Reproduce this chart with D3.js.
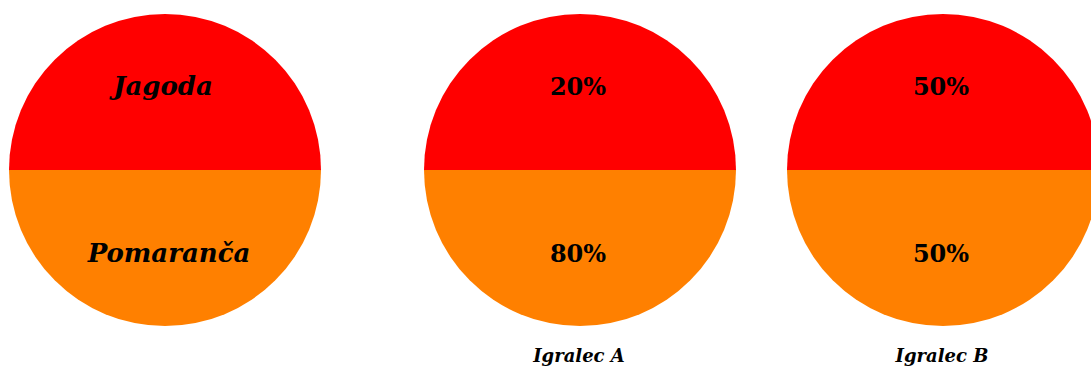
<!DOCTYPE html>
<html>
<head>
<meta charset="utf-8">
<script src="https://cdn.jsdelivr.net/npm/d3@7"></script>
<style>
html,body{margin:0;padding:0;background:#fff;}
svg{display:block;}
</style>
</head>
<body>
<svg id="chart" width="1091" height="367"></svg>
<script>
// Data
const charts = ["legend", "Igralec A", "Igralec B"];
const sliceNames = ["Jagoda", "Pomaranča"];
const sliceShares = [[50, 50], [50, 50], [50, 50]];
const topLabels = ["Jagoda", "20%", "50%"];
const bottomLabels = ["Pomaranča", "80%", "50%"];
const captions = ["", "Igralec A", "Igralec B"];
const sliceColors = ["#ff0000", "#ff8000"];

const svg = d3.select("#chart");
const R = 156;
const cy = 170;

const x = d3.scaleOrdinal().domain(charts).range([165, 580, 943]);
const color = d3.scaleOrdinal().domain(sliceNames).range(sliceColors);

const pie = d3.pie().sort(null).value(d => d.v)
  .startAngle(-Math.PI / 2).endAngle(3 * Math.PI / 2);
const arc = d3.arc().innerRadius(0).outerRadius(R);

const serif = "'DejaVu Serif', 'Liberation Serif', serif";

charts.forEach((c, i) => {
  const g = svg.append("g").attr("transform", `translate(${x(c)},${cy})`);
  g.selectAll("path")
    .data(pie(sliceShares[i].map((v, j) => ({name: sliceNames[j], v}))))
    .join("path")
    .attr("d", arc)
    .attr("fill", d => color(d.data.name));

  const italic = i === 0;
  const fs = italic ? 26 : 24;
  g.append("text")
    .attr("x", italic ? -2 : -2)
    .attr("y", -75)
    .attr("text-anchor", "middle")
    .attr("font-family", serif)
    .attr("font-weight", "bold")
    .attr("font-style", italic ? "italic" : "normal")
    .attr("font-size", fs)
    .attr("fill", "#000")
    .text(topLabels[i]);
  g.append("text")
    .attr("x", italic ? 4 : -2)
    .attr("y", 92)
    .attr("text-anchor", "middle")
    .attr("font-family", serif)
    .attr("font-weight", "bold")
    .attr("font-style", italic ? "italic" : "normal")
    .attr("font-size", fs)
    .attr("fill", "#000")
    .text(bottomLabels[i]);
  if (captions[i]) {
    svg.append("text")
      .attr("x", x(c) - 1)
      .attr("y", 362)
      .attr("text-anchor", "middle")
      .attr("font-family", serif)
      .attr("font-weight", "bold")
      .attr("font-style", "italic")
      .attr("font-size", 18)
      .attr("fill", "#000")
      .text(captions[i]);
  }
});
</script>
</body>
</html>
